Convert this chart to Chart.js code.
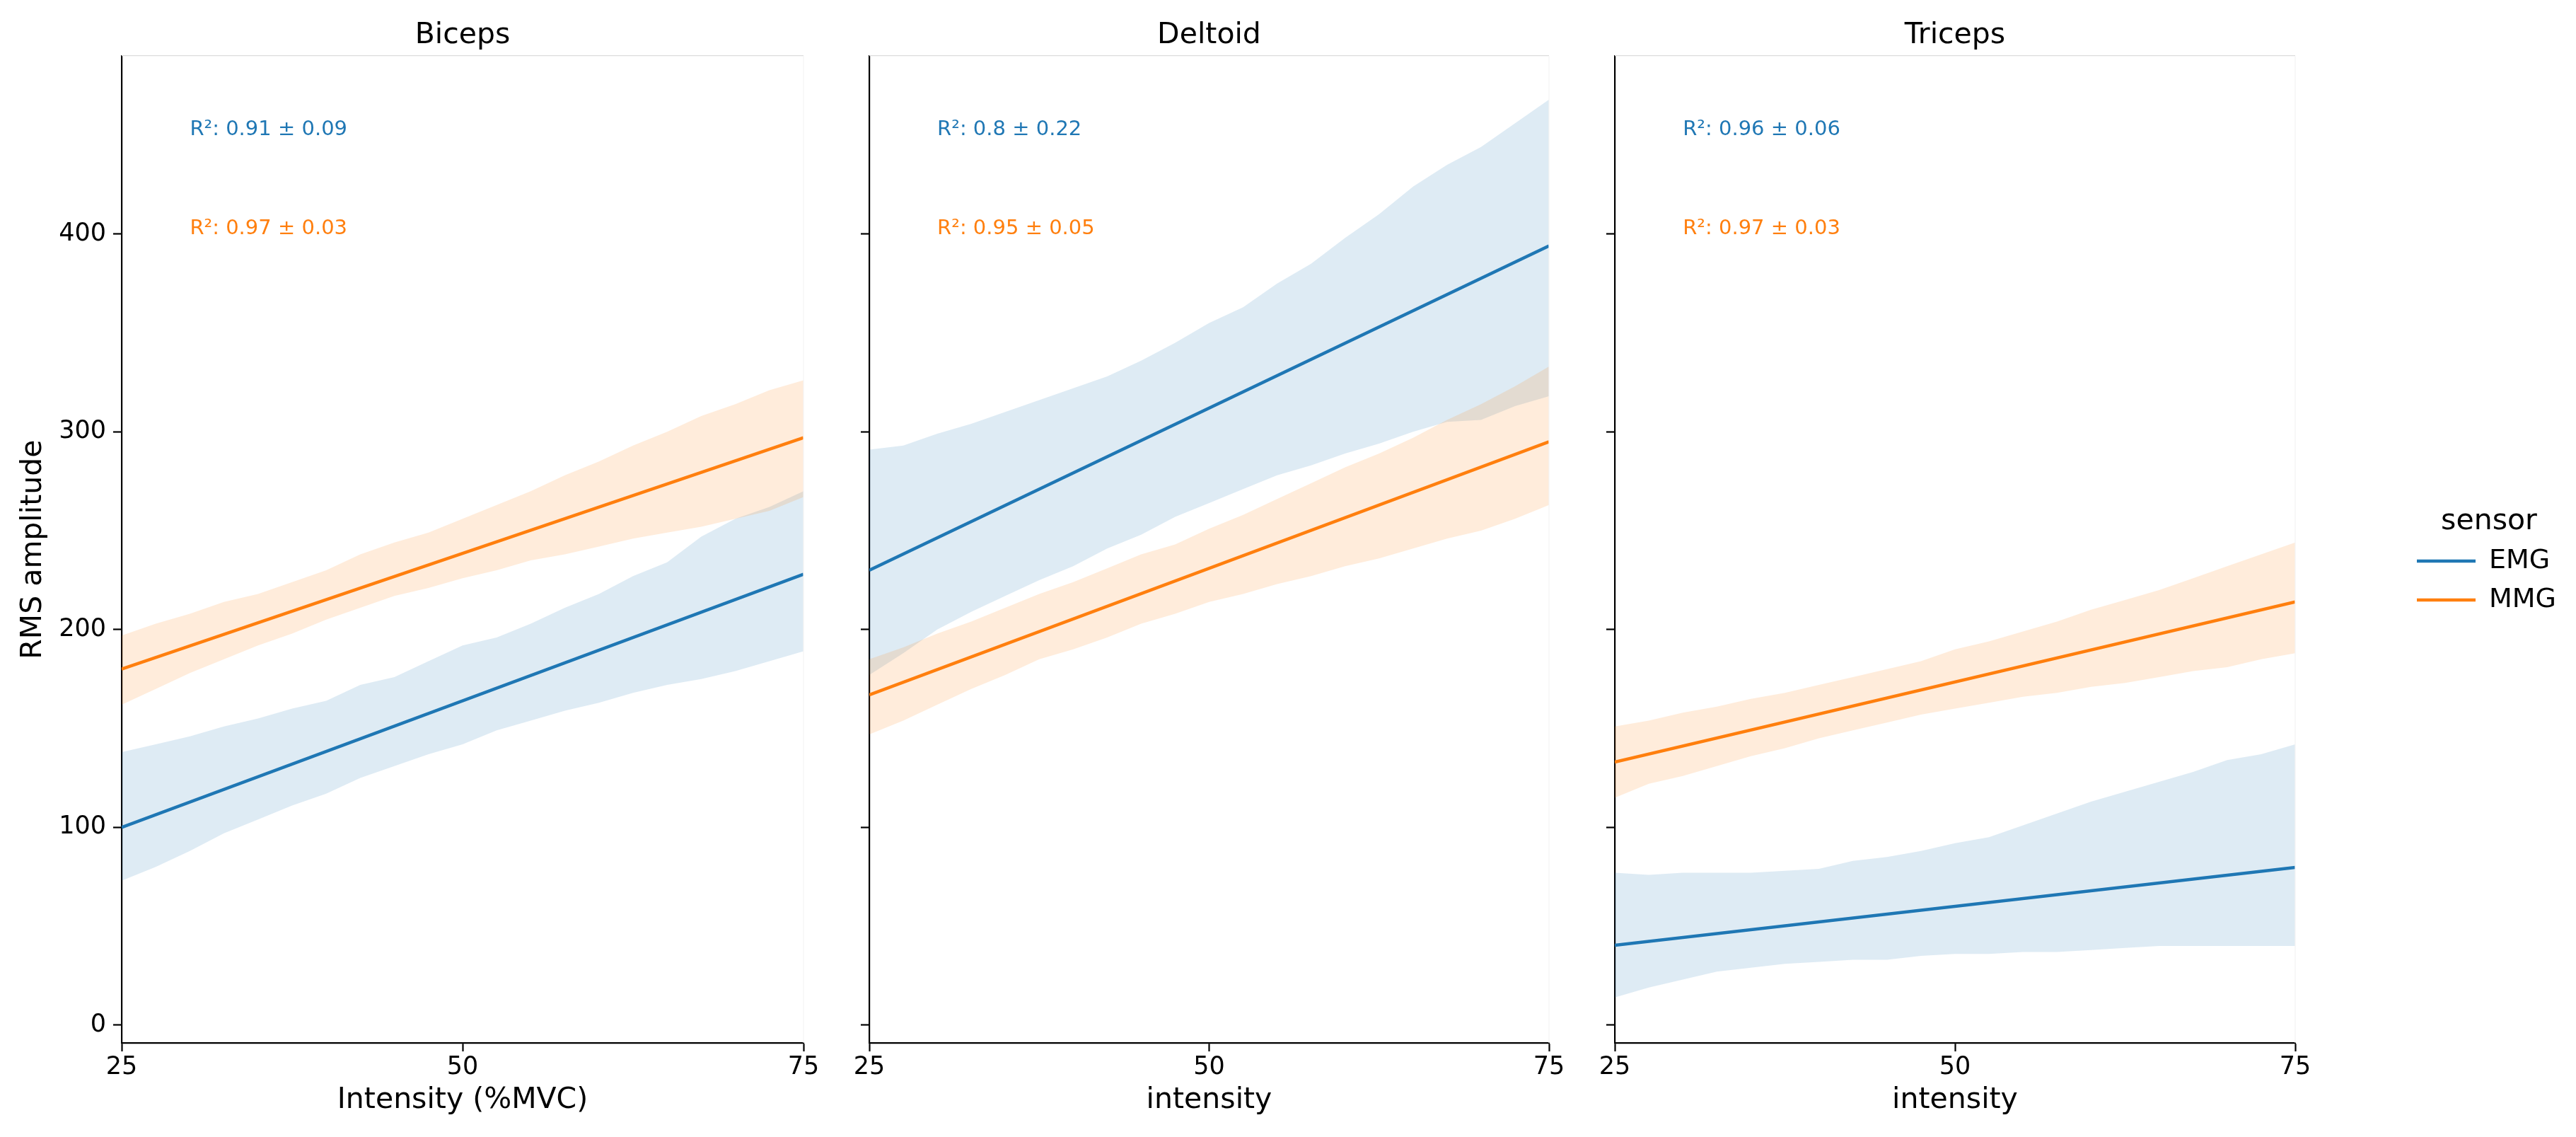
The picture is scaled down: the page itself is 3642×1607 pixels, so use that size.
<!DOCTYPE html>
<html>
<head>
<meta charset="utf-8">
<script src="https://cdn.jsdelivr.net/npm/chart.js@4.4.1/dist/chart.umd.min.js"></script>
<style>
html,body{margin:0;padding:0;background:#fff;width:3642px;height:1607px;overflow:hidden;}
canvas{position:absolute;top:0;}
</style>
</head>
<body>
<canvas id="c0" width="1176" height="1607" style="left:0px;width:1176px;height:1607px"></canvas>
<canvas id="c1" width="1061" height="1607" style="left:1169px;width:1061px;height:1607px"></canvas>
<canvas id="c2" width="1419" height="1607" style="left:2223px;width:1419px;height:1607px"></canvas>
<script>
// ---------------- data ----------------
const muscles = ['Biceps', 'Deltoid', 'Triceps'];
const xAxisTitles = ['Intensity (%MVC)', 'intensity', 'intensity'];
const yAxisTitle = 'RMS amplitude';
const legendTitle = 'sensor';
const sensors = ['EMG', 'MMG'];
const xTicks = [25, 50, 75];
const yTicks = [0, 100, 200, 300, 400];
const bandX = [25, 27.5, 30, 32.5, 35, 37.5, 40, 42.5, 45, 47.5, 50, 52.5, 55, 57.5, 60, 62.5, 65, 67.5, 70, 72.5, 75];
const lineX = [25, 75];

// regression lines (value at x = 25 and x = 75)
const bicepsEmgLine = [100, 228];
const bicepsMmgLine = [180, 297];
const deltoidEmgLine = [230, 394];
const deltoidMmgLine = [167, 295];
const tricepsEmgLine = [40.4, 79.7];
const tricepsMmgLine = [133, 214];

// confidence bands at bandX
const bicepsEmgUpper = [138, 142, 146, 151, 155, 160, 164, 172, 176, 184, 192, 196, 203, 211, 218, 227, 234, 247, 256, 262, 270];
const bicepsEmgLower = [73, 80, 88, 97, 104, 111, 117, 125, 131, 137, 142, 149, 154, 159, 163, 168, 172, 175, 179, 184, 189];
const bicepsMmgUpper = [197, 203, 208, 214, 218, 224, 230, 238, 244, 249, 256, 263, 270, 278, 285, 293, 300, 308, 314, 321, 326];
const bicepsMmgLower = [162, 170, 178, 185, 192, 198, 205, 211, 217, 221, 226, 230, 235, 238, 242, 246, 249, 252, 256, 260, 267];

const deltoidEmgUpper = [291, 293, 299, 304, 310, 316, 322, 328, 336, 345, 355, 363, 375, 385, 398, 410, 424, 435, 444, 456, 468];
const deltoidEmgLower = [177, 188, 200, 209, 217, 225, 232, 241, 248, 257, 264, 271, 278, 283, 289, 294, 300, 305, 306, 313, 318];
const deltoidMmgUpper = [185, 191, 198, 204, 211, 218, 224, 231, 238, 243, 251, 258, 266, 274, 282, 289, 297, 306, 314, 323, 333];
const deltoidMmgLower = [147, 154, 162, 170, 177, 185, 190, 196, 203, 208, 214, 218, 223, 227, 232, 236, 241, 246, 250, 256, 263];

const tricepsEmgUpper = [77, 76, 77, 77, 77, 78, 79, 83, 85, 88, 92, 95, 101, 107, 113, 118, 123, 128, 134, 137, 142];
const tricepsEmgLower = [14, 19, 23, 27, 29, 31, 32, 33, 33, 35, 36, 36, 37, 37, 38, 39, 40, 40, 40, 40, 40];
const tricepsMmgUpper = [151, 154, 158, 161, 165, 168, 172, 176, 180, 184, 190, 194, 199, 204, 210, 215, 220, 226, 232, 238, 244];
const tricepsMmgLower = [115, 122, 126, 131, 136, 140, 145, 149, 153, 157, 160, 163, 166, 168, 171, 173, 176, 179, 181, 185, 188];

// R² annotations
const r2Emg = ['R\u00b2: 0.91 \u00b1 0.09', 'R\u00b2: 0.8 \u00b1 0.22', 'R\u00b2: 0.96 \u00b1 0.06'];
const r2Mmg = ['R\u00b2: 0.97 \u00b1 0.03', 'R\u00b2: 0.95 \u00b1 0.05', 'R\u00b2: 0.97 \u00b1 0.03'];
const r2X = 30;
const r2EmgY = 450;
const r2MmgY = 400;

const yMin = -9;
const yMax = 490;
const xMin = 25;
const xMax = 75;

// ---------------- styling ----------------
const FONT = '"DejaVu Sans", "Liberation Sans", sans-serif';
const colors = { EMG: '#1f77b4', MMG: '#ff7f0e' };
const bandColors = { EMG: 'rgba(31,119,180,0.15)', MMG: 'rgba(255,127,14,0.15)' };

const panels = [
  { EMG: { line: bicepsEmgLine, up: bicepsEmgUpper, lo: bicepsEmgLower },
    MMG: { line: bicepsMmgLine, up: bicepsMmgUpper, lo: bicepsMmgLower } },
  { EMG: { line: deltoidEmgLine, up: deltoidEmgUpper, lo: deltoidEmgLower },
    MMG: { line: deltoidMmgLine, up: deltoidMmgUpper, lo: deltoidMmgLower } },
  { EMG: { line: tricepsEmgLine, up: tricepsEmgUpper, lo: tricepsEmgLower },
    MMG: { line: tricepsMmgLine, up: tricepsMmgUpper, lo: tricepsMmgLower } }
];

const pts = (xs, ys) => xs.map((x, i) => ({ x: x, y: ys[i] }));

function buildDatasets(p) {
  const ds = [];
  sensors.forEach((s, si) => {
    const lowIdx = ds.length;
    ds.push({ label: s + ' lower', data: pts(bandX, p[s].lo), borderWidth: 0, pointRadius: 0,
      borderColor: 'rgba(0,0,0,0)', backgroundColor: 'rgba(0,0,0,0)', fill: false, order: 10 - si * 2,
      xAxisID: 'x', yAxisID: 'y', isLine: false });
    ds.push({ label: s + ' band', data: pts(bandX, p[s].up), borderWidth: 0, pointRadius: 0,
      borderColor: 'rgba(0,0,0,0)', backgroundColor: bandColors[s], fill: { target: lowIdx }, order: 10 - si * 2,
      xAxisID: 'x', yAxisID: 'y', isLine: false });
  });
  sensors.forEach((s) => {
    ds.push({ label: s, data: pts(lineX, p[s].line), borderWidth: 4.5, pointRadius: 0,
      borderColor: colors[s], backgroundColor: colors[s], fill: false, order: 0,
      pointStyle: 'line', xAxisID: 'x', yAxisID: 'y', isLine: true });
  });
  return ds;
}

function annotPlugin(i) {
  return {
    id: 'annot' + i,
    afterDatasetsDraw(chart) {
      const ctx = chart.ctx;
      const xs = chart.scales.x, ys = chart.scales.y;
      const a = chart.chartArea;
      ctx.save();
      // faint top and right frame
      ctx.strokeStyle = '#dcdcdc';
      ctx.lineWidth = 1.2;
      ctx.beginPath();
      ctx.moveTo(a.left, a.top - 0.5);
      ctx.lineTo(a.right, a.top - 0.5);
      ctx.stroke();
      ctx.strokeStyle = '#f3f3f3';
      ctx.beginPath();
      ctx.moveTo(a.right, a.top);
      ctx.lineTo(a.right, a.bottom);
      ctx.stroke();
      ctx.font = '29px ' + FONT;
      ctx.textAlign = 'left';
      ctx.textBaseline = 'alphabetic';
      ctx.fillStyle = colors.EMG;
      ctx.fillText(r2Emg[i], xs.getPixelForValue(r2X), ys.getPixelForValue(r2EmgY));
      ctx.fillStyle = colors.MMG;
      ctx.fillText(r2Mmg[i], xs.getPixelForValue(r2X), ys.getPixelForValue(r2MmgY));
      ctx.restore();
    },
    afterDraw(chart) {
      if (i !== 2 || !chart.legend || !chart.legend.legendHitBoxes || !chart.legend.legendHitBoxes.length) return;
      const lg = chart.legend;
      const hb = lg.legendHitBoxes[0];
      let left = hb.left;
      if (left < lg.left) left += lg.left;
      const cy = hb.top + hb.height / 2;
      const ctx = chart.ctx;
      ctx.save();
      ctx.font = '41px ' + FONT;
      ctx.fillStyle = '#000';
      ctx.textAlign = 'center';
      ctx.textBaseline = 'middle';
      ctx.fillText(legendTitle, left + 102, cy - 56);
      ctx.restore();
    }
  };
}

function makeChart(i) {
  const isFirst = i === 0;
  const isLast = i === 2;
  const scales = {
    x: {
      type: 'linear', position: 'bottom', min: xMin, max: xMax,
      afterBuildTicks: s => { s.ticks = xTicks.map(v => ({ value: v })); },
      afterFit: s => { s.height = 133; },
      grid: { display: true, drawOnChartArea: false, drawTicks: true, tickLength: 12, tickWidth: 2.2, tickColor: '#000' },
      border: { display: true, color: '#000', width: 2.2 },
      ticks: { color: '#000', font: { family: FONT, size: 35 }, padding: 2, maxRotation: 0, autoSkip: false },
      title: { display: true, text: xAxisTitles[i], color: '#000', font: { family: FONT, size: 41 }, padding: { top: 0, bottom: 27 } }
    },
    y: {
      type: 'linear', position: 'left', min: yMin, max: yMax,
      afterBuildTicks: s => { s.ticks = yTicks.map(v => ({ value: v })); },
      afterFit: s => { s.width = isFirst ? 172 : 60; },
      grid: { display: true, drawOnChartArea: false, drawTicks: true, tickLength: 12, tickWidth: 2.2, tickColor: '#000' },
      border: { display: true, color: '#000', width: 2.2 },
      ticks: { color: '#000', font: { family: FONT, size: 35 }, padding: 10, autoSkip: false,
        callback: v => isFirst ? String(v) : '' },
      title: { display: isFirst, text: yAxisTitle, color: '#000', font: { family: FONT, size: 41 }, padding: { top: 23, bottom: 0 } }
    }
  };
  if (isLast) {
    scales.rpad = {
      type: 'linear', position: 'right', display: true,
      grid: { display: false, drawTicks: false }, border: { display: false },
      ticks: { display: false }, title: { display: false },
      afterFit: s => { s.width = 155; }
    };
  }
  const cfg = {
    type: 'line',
    data: { datasets: buildDatasets(panels[i]) },
    options: {
      responsive: false,
      animation: false,
      devicePixelRatio: 1,
      layout: { padding: { left: 0, top: 0, bottom: 0, right: isLast ? 18 : 40 } },
      scales: scales,
      plugins: {
        tooltip: { enabled: false },
        title: { display: true, fullSize: false, text: muscles[i], color: '#000', font: { family: FONT, size: 41, weight: 'normal' }, padding: { top: 26, bottom: 4 } },
        legend: isLast ? {
          display: true, position: 'right', align: 'center', fullSize: false, maxWidth: 224,
          title: { display: true, text: '', color: '#000', font: { family: FONT, size: 41, lineHeight: 1 }, padding: { top: 47, bottom: 0 } },
          labels: {
            usePointStyle: true, pointStyle: 'line', pointStyleWidth: 83, boxHeight: 38, padding: 17,
            color: '#000', font: { family: FONT, size: 38 },
            filter: (item, data) => data.datasets[item.datasetIndex].isLine
          }
        } : { display: false }
      }
    },
    plugins: [annotPlugin(i)]
  };
  return new Chart(document.getElementById('c' + i), cfg);
}

[0, 1, 2].forEach(makeChart);
</script>
</body>
</html>
